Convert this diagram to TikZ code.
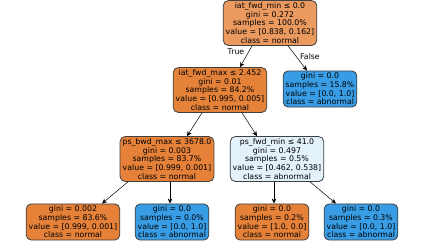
\documentclass[tikz,border=0pt]{standalone}
\usepackage{fontspec}
\setmainfont{DejaVu Sans}
\usepackage{tikz}
\usetikzlibrary{arrows.meta,positioning}
\usepackage{xcolor}
\definecolor{normalc}{HTML}{E58139}
\definecolor{rootc}{HTML}{EA995F}
\definecolor{midc}{HTML}{E5823A}
\definecolor{abnc}{HTML}{399DE5}
\definecolor{mixc}{HTML}{E3F1FB}
\definecolor{edgec}{HTML}{404040}

\begin{document}
\begin{tikzpicture}[
  x=1pt,y=-1pt,
  box/.style={draw=edgec,line width=0.8pt,rounded corners=5pt,align=center,
    font=\fontsize{7.8}{8.7}\selectfont,inner xsep=2.5pt,inner ysep=2pt},
  normal/.style={box,fill=normalc},
  abn/.style={box,fill=abnc},
  arr/.style={-{Stealth[length=5pt,width=4.5pt]},line width=0.5pt},
  lab/.style={font=\fontsize{7.8}{8.7}\selectfont}
]
\useasboundingbox (0,0) rectangle (424,242);
\node[box,fill=rootc] (root) at (270,23) {iat\_fwd\_min ≤ 0.0\\gini = 0.272\\samples = 100.0\%\\value = [0.838, 0.162]\\class = normal};
\node[box,fill=midc] (ifm) at (220,90) {iat\_fwd\_max ≤ 2.452\\gini = 0.01\\samples = 84.2\%\\value = [0.995, 0.005]\\class = normal};
\node[abn] (r1) at (320,89) {gini = 0.0\\samples = 15.8\%\\value = [0.0, 1.0]\\class = abnormal};
\node[normal] (pbm) at (167,159) {ps\_bwd\_max ≤ 3678.0\\gini = 0.003\\samples = 83.7\%\\value = [0.999, 0.001]\\class = normal};
\node[box,fill=mixc] (pfm) at (277,159) {ps\_fwd\_min ≤ 41.0\\gini = 0.497\\samples = 0.5\%\\value = [0.462, 0.538]\\class = abnormal};
\node[normal] (l1) at (73,222) {gini = 0.002\\samples = 83.6\%\\value = [0.999, 0.001]\\class = normal};
\node[abn] (l2) at (172,222) {gini = 0.0\\samples = 0.0\%\\value = [0.0, 1.0]\\class = abnormal};
\node[normal] (l3) at (272,222) {gini = 0.0\\samples = 0.2\%\\value = [1.0, 0.0]\\class = normal};
\node[abn] (l4) at (361,222) {gini = 0.0\\samples = 0.3\%\\value = [0.0, 1.0]\\class = abnormal};
% edges
\draw[arr] (root.south -| 252,0) -- (ifm.north -| 240,0);
\draw[arr] (root.south -| 288,0) -- (r1.north -| 307,0);
\node[lab] (tl) at (236,52) {True};
\node[lab] (fl) at (310,57) {False};
\draw[arr] (ifm.south -| 202,0) -- (pbm.north -| 187,0);
\draw[arr] (ifm.south -| 242,0) -- (pfm.north -| 257,0);
\draw[arr] (pbm.south -| 128,0) -- (l1.north -| 102,0);
\draw[arr] (pbm.south -| 170,0) -- (l2.north -| 170,0);
\draw[arr] (pfm.south -| 274,0) -- (l3.north -| 274,0);
\draw[arr] (pfm.south -| 310,0) -- (l4.north -| 336,0);
\end{tikzpicture}
\end{document}
